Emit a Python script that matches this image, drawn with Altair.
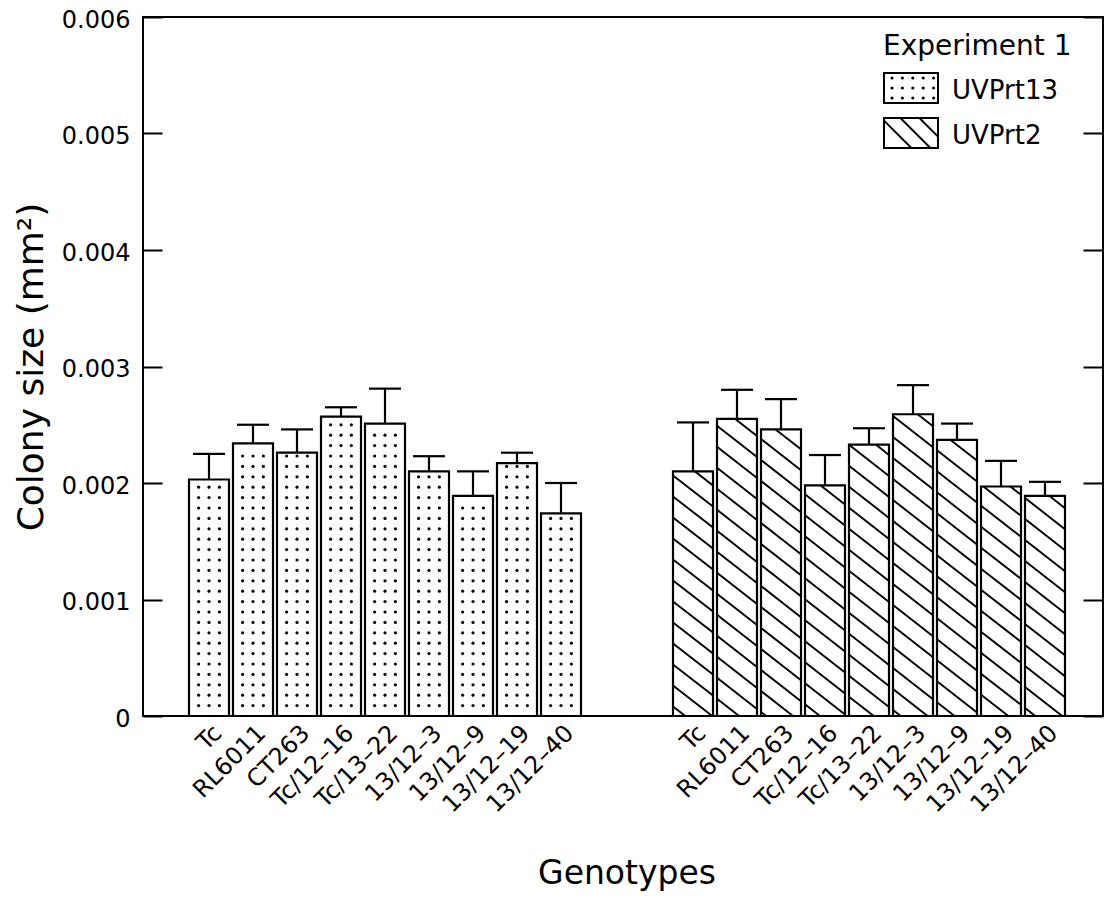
import math
import altair as alt
import pandas as pd

# ---------------- data ----------------
genotypes = ["Tc", "RL6011", "CT263", "Tc/12–16", "Tc/13–22",
             "13/12–3", "13/12–9", "13/12–19", "13/12–40"]
series_names = ["UVPrt13", "UVPrt2"]
legend_title = "Experiment 1"
uvprt13_mean = [0.00203, 0.00234, 0.00226, 0.00257, 0.00251, 0.00210, 0.00189, 0.00217, 0.00174]
uvprt13_err = [0.00022, 0.00016, 0.00020, 0.00008, 0.00030, 0.00013, 0.00021, 0.00009, 0.00026]
uvprt2_mean = [0.00210, 0.00255, 0.00246, 0.00198, 0.00233, 0.00259, 0.00237, 0.00197, 0.00189]
uvprt2_err = [0.00042, 0.00025, 0.00026, 0.00026, 0.00014, 0.00025, 0.00014, 0.00022, 0.00012]
y_ticks = [0, 0.001, 0.002, 0.003, 0.004, 0.005, 0.006]
x_title = "Genotypes"
y_title = "Colony size (mm²)"

# ---------------- layout ----------------
W, H = 960, 699
PITCH = 44.0
GAP = 2
N = len(genotypes)
X_DOMAIN = [-1.5, -1.5 + W / PITCH]
Y_MAX = 0.006
PXX = PITCH
PXY = H / Y_MAX
BAR_HALF = 20 / PXX
CAP_HALF = 16 / PXX
FONT = "DejaVu Sans"


def px_x(x):
    return (x - X_DOMAIN[0]) * PXX


def px_y(v):
    return H - v * PXY


def dx(px):
    return px / PXX + X_DOMAIN[0]


def dy(py):
    return (H - py) / PXY


rows = []
for g, (name, means, errs) in enumerate([(series_names[0], uvprt13_mean, uvprt13_err),
                                         (series_names[1], uvprt2_mean, uvprt2_err)]):
    for i, (gen, m, e) in enumerate(zip(genotypes, means, errs)):
        slot = g * (N + GAP) + i
        rows.append(dict(series=name, genotype=gen, slot=slot, mean=m, upper=m + e,
                         xl=slot - BAR_HALF, xr=slot + BAR_HALF,
                         cl=slot - CAP_HALF, cr=slot + CAP_HALF))
bars = pd.DataFrame(rows)


def hatch_segments(xl, xr, yt, yb, slope, spacing, phase, min_len=0.5):
    segs = []
    cmin = yt - slope * xr
    cmax = yb - slope * xl
    k0 = math.ceil((cmin - phase) / spacing)
    k1 = math.floor((cmax - phase) / spacing)
    for k in range(k0, k1 + 1):
        c = phase + k * spacing
        xa = max(xl, (yt - c) / slope)
        xb = min(xr, (yb - c) / slope)
        if xb - xa > min_len:
            segs.append((xa, c + slope * xa, xb, c + slope * xb))
    return segs


# dotted fill for the first series
DOT_STEP = 10.4
dot_rows = []
for r in bars[bars.series == series_names[0]].itertuples():
    cx = px_x(r.slot)
    top = px_y(r.mean)
    k = 1
    while H - k * DOT_STEP > top + 3:
        py = H - k * DOT_STEP
        for off in (-DOT_STEP, 0, DOT_STEP):
            dot_rows.append(dict(x=dx(cx + off), y=dy(py)))
        k += 1
dots = pd.DataFrame(dot_rows)

# hatched fill for the second series
hatch_rows = []
for r in bars[bars.series == series_names[1]].itertuples():
    for (x1, y1, x2, y2) in hatch_segments(px_x(r.xl), px_x(r.xr), px_y(r.mean), H, 0.78, 21, 3):
        hatch_rows.append(dict(x=dx(x1), y=dy(y1), x2=dx(x2), y2=dy(y2)))
hatch = pd.DataFrame(hatch_rows)

# ---------------- legend (pixel space) ----------------
LEG_X, SW_W, SW_H = 741, 54, 30
leg = pd.DataFrame({"series": series_names, "y0": [56, 101]})
leg["y1"] = leg.y0 + SW_H
leg["x0"] = LEG_X
leg["x1"] = LEG_X + SW_W
leg["tx"] = LEG_X + 68
leg["ty"] = leg.y0 + 25.5

leg_dot_rows = []
for j in range(5):
    for i in range(3):
        leg_dot_rows.append(dict(x=LEG_X + 8 + DOT_STEP * j, y=leg.y0[0] + 5 + 10 * i))
leg_dots = pd.DataFrame(leg_dot_rows)

leg_hatch = pd.DataFrame([dict(x=a, y=b, x2=c, y2=d) for (a, b, c, d) in
                          hatch_segments(LEG_X, LEG_X + SW_W, leg.y0[1], leg.y0[1] + SW_H, 1.0, 19, 8.6, 15)])
leg_title = pd.DataFrame({"t": [legend_title], "x": [LEG_X - 1], "y": [38]})

# ---------------- chart ----------------
xs = alt.Scale(domain=X_DOMAIN, nice=False, zero=False)
ys = alt.Scale(domain=[0, Y_MAX], nice=False, zero=False)

y_left = alt.Axis(orient="left", values=y_ticks, format=".3f",
                  labelExpr="datum.value == 0 ? '0' : datum.label",
                  offset=-19, tickSize=19, tickWidth=2, domain=False, grid=False,
                  labelPadding=13, labelFontSize=24, labelFlush=False, labelOffset=3,
                  title=y_title, titleFontSize=36, titleAngle=270, titleX=-120, titleY=H / 2,
                  titleAlign="center", titleBaseline="alphabetic")
y_right = alt.Axis(orient="right", values=y_ticks, offset=-20, tickSize=20, tickWidth=2,
                   domain=False, grid=False, labels=False, title=None)

base_bars = alt.Chart(bars)

fill_layer = base_bars.mark_rect(fill="white").encode(
    x=alt.X("xl:Q", scale=xs, axis=None), x2="xr:Q",
    y=alt.Y("mean:Q", scale=ys, axis=y_left), y2=alt.datum(0))

dot_layer = alt.Chart(dots).mark_circle(size=10, color="black", opacity=1).encode(
    x=alt.X("x:Q", scale=xs, axis=None), y=alt.Y("y:Q", scale=ys, axis=None))

hatch_layer = alt.Chart(hatch).mark_rule(color="black", strokeWidth=1.9).encode(
    x=alt.X("x:Q", scale=xs, axis=None), x2="x2:Q",
    y=alt.Y("y:Q", scale=ys, axis=None), y2="y2:Q")

outline_layer = base_bars.mark_rect(fillOpacity=0, stroke="black", strokeWidth=2.2).encode(
    x=alt.X("xl:Q", scale=xs, axis=None), x2="xr:Q",
    y=alt.Y("mean:Q", scale=ys, axis=y_right), y2=alt.datum(0))

err_layer = base_bars.mark_rule(color="black", strokeWidth=2.2).encode(
    x=alt.X("slot:Q", scale=xs, axis=None),
    y=alt.Y("mean:Q", scale=ys, axis=None), y2="upper:Q")

cap_layer = base_bars.mark_rule(color="black", strokeWidth=2.2).encode(
    x=alt.X("cl:Q", scale=xs, axis=None), x2="cr:Q",
    y=alt.Y("upper:Q", scale=ys, axis=None))

# genotype labels under each bar (placed through the x scale)
xlabel_layer = base_bars.mark_text(angle=315, align="right", baseline="top", font=FONT,
                                   fontSize=24, color="black", dx=1).encode(
    x=alt.X("slot:Q", scale=xs, axis=None), y=alt.value(H + 6), text="genotype:N")

xtitle_layer = alt.Chart(pd.DataFrame({"t": [x_title]})).mark_text(
    align="center", baseline="alphabetic", font=FONT, fontSize=33, color="black").encode(
    x=alt.value(484), y=alt.value(H + 168), text="t:N")

leg_box = alt.Chart(leg).mark_rect(fill="white", stroke="black", strokeWidth=2).encode(
    x=alt.X("x0:Q", scale=None, axis=None), x2="x1:Q",
    y=alt.Y("y0:Q", scale=None, axis=None), y2="y1:Q")
leg_dot_layer = alt.Chart(leg_dots).mark_circle(size=10, color="black", opacity=1).encode(
    x=alt.X("x:Q", scale=None, axis=None), y=alt.Y("y:Q", scale=None, axis=None))
leg_hatch_layer = alt.Chart(leg_hatch).mark_rule(color="black", strokeWidth=1.9).encode(
    x=alt.X("x:Q", scale=None, axis=None), x2="x2:Q",
    y=alt.Y("y:Q", scale=None, axis=None), y2="y2:Q")
leg_text = alt.Chart(leg).mark_text(align="left", baseline="alphabetic", font=FONT,
                                    fontSize=26, color="black").encode(
    x=alt.X("tx:Q", scale=None, axis=None), y=alt.Y("ty:Q", scale=None, axis=None),
    text="series:N")
leg_title_layer = alt.Chart(leg_title).mark_text(align="left", baseline="alphabetic", font=FONT,
                                                 fontSize=28, color="black").encode(
    x=alt.X("x:Q", scale=None, axis=None), y=alt.Y("y:Q", scale=None, axis=None),
    text="t:N")

chart = alt.layer(
    fill_layer, dot_layer, hatch_layer, outline_layer, err_layer, cap_layer,
    xlabel_layer, xtitle_layer,
    leg_box, leg_dot_layer, leg_hatch_layer, leg_text, leg_title_layer
).resolve_axis(y="independent").properties(
    width=W, height=H,
    autosize=alt.AutoSizeParams(type="none"),
    padding={"left": 135, "top": 9, "right": 1, "bottom": 175},
    background="white",
).configure_view(
    stroke="black", strokeWidth=2
).configure_axis(
    labelFont=FONT, titleFont=FONT, labelColor="black", titleColor="black",
    tickColor="black", titleFontWeight="normal"
)

chart.save("out.html", embed_options={"renderer": "svg", "actions": False})
